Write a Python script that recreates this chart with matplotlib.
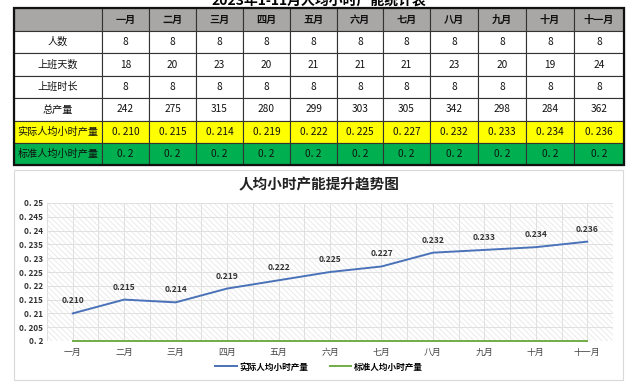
import matplotlib
matplotlib.use("Agg")
import matplotlib.pyplot as plt
from matplotlib.patches import Rectangle
from matplotlib.lines import Line2D

plt.rcParams['font.family'] = ['Noto Sans CJK SC', 'DejaVu Sans']
plt.rcParams['hatch.color'] = '#dcdcdc'
plt.rcParams['hatch.linewidth'] = 0.5

# ---------------- data ----------------
months = ['一月', '二月', '三月', '四月', '五月', '六月', '七月', '八月', '九月', '十月', '十一月']
row_names = ['人数', '上班天数', '上班时长', '总产量', '实际人均小时产量', '标准人均小时产量']
headcount = [8, 8, 8, 8, 8, 8, 8, 8, 8, 8, 8]
work_days = [18, 20, 23, 20, 21, 21, 21, 23, 20, 19, 24]
work_hours = [8, 8, 8, 8, 8, 8, 8, 8, 8, 8, 8]
total_output = [242, 275, 315, 280, 299, 303, 305, 342, 298, 284, 362]
actual_rate = [0.210, 0.215, 0.214, 0.219, 0.222, 0.225, 0.227, 0.232, 0.233, 0.234, 0.236]
standard_rate = [0.2, 0.2, 0.2, 0.2, 0.2, 0.2, 0.2, 0.2, 0.2, 0.2, 0.2]
table_title = '2023年1-11月人均小时产能统计表'
chart_title = '人均小时产能提升趋势图'

W, H = 637, 387
fig = plt.figure(figsize=(W / 100, H / 100), dpi=100)

# overlay axes in pixel coordinates for the table
tax = fig.add_axes([0, 0, 1, 1])
tax.set_xlim(0, W)
tax.set_ylim(H, 0)
tax.axis('off')

col_x = [14, 102, 149, 196, 243, 290, 337, 383, 430, 478, 526, 574, 624]
row_y = [8, 31, 53, 76, 98, 121, 143, 165]

tax.text(319, 1, table_title, ha='center', va='center', fontsize=10, fontweight='bold', clip_on=False)

row_fill = ['#a9a6a6', 'white', 'white', 'white', 'white', '#ffff00', '#00b050']
rows = [
    [str(v) for v in headcount],
    [str(v) for v in work_days],
    [str(v) for v in work_hours],
    [str(v) for v in total_output],
    ['0. %03d' % round(v * 1000) for v in actual_rate],
    ['0. %d' % round(v * 10) for v in standard_rate],
]

for r in range(7):
    y0, y1 = row_y[r], row_y[r + 1]
    for c in range(12):
        x0, x1 = col_x[c], col_x[c + 1]
        tax.add_patch(Rectangle((x0, y0), x1 - x0, y1 - y0, facecolor=row_fill[r],
                                edgecolor='#333333', lw=0.8))
        if r == 0:
            txt = '' if c == 0 else months[c - 1]
            fw = 'bold'
        else:
            txt = row_names[r - 1] if c == 0 else rows[r - 1][c - 1]
            fw = 'normal'
        tax.text((x0 + x1) / 2, (y0 + y1) / 2, txt, ha='center', va='center',
                 fontsize=7.3, fontweight=fw, color='#111111')
tax.add_patch(Rectangle((col_x[0], row_y[0]), col_x[-1] - col_x[0], row_y[-1] - row_y[0],
                        facecolor='none', edgecolor='#111111', lw=1.6))

# chart frame
tax.add_patch(Rectangle((14, 170), 609, 210, facecolor='none', edgecolor='#d9d9d9', lw=0.8))
tax.text(319, 184, chart_title, ha='center', va='center', fontsize=10.5, fontweight='bold',
         color='#222222')

# ---------------- chart ----------------
L, R, T, B = 47, 613, 203, 341
ax = fig.add_axes([L / W, (H - B) / H, (R - L) / W, (B - T) / H])
x = list(range(len(months)))
ax.set_xlim(-0.5, len(months) - 0.5)
ax.set_ylim(0.2, 0.25)
ax.add_patch(Rectangle((0, 0), 1, 1, transform=ax.transAxes, facecolor='white',
                       hatch='\\\\\\\\\\\\', edgecolor='#e4e4e4', lw=0, zorder=0))
for gx in [i * 0.5 - 0.5 for i in range(2 * len(months) + 1)]:
    ax.axvline(gx, color='#e0e0e0', lw=0.7, zorder=1)
yt = [0.2 + 0.005 * i for i in range(11)]
for gy in yt:
    ax.axhline(gy, color='#e0e0e0', lw=0.7, zorder=1)

ax.plot(x, actual_rate, color='#4a72b8', lw=1.4, zorder=3, label='实际人均小时产量')
ax.plot(x, standard_rate, color='#70ad47', lw=1.4, zorder=3, clip_on=False, label='标准人均小时产量')
for xi, v in zip(x, actual_rate):
    ax.annotate('%.3f' % v, (xi, v), xytext=(0, 9), textcoords='offset points',
                ha='center', va='center', fontsize=6.1, fontweight='bold', color='#333333')

ax.set_xticks(x)
ax.set_xticklabels(months, fontsize=6.4, color='#444444')
ax.set_yticks(yt)
ax.set_yticklabels([('%.3f' % v).rstrip('0').rstrip('.').replace('0.', '0. ') if v != 0.2 else '0. 2' for v in yt],
                   fontsize=5.9, fontweight='bold', color='#333333')
ax.tick_params(length=0, pad=3)
ax.tick_params(axis='x', pad=5)
for s in ax.spines.values():
    s.set_visible(False)

handles = [Line2D([], [], color='#4a72b8', lw=1.4), Line2D([], [], color='#70ad47', lw=1.4)]
fig.legend(handles, ['实际人均小时产量', '标准人均小时产量'], loc='center',
           bbox_to_anchor=(319 / W, (H - 367) / H), ncol=2, frameon=False,
           prop={'size': 6.2, 'weight': 'bold'}, handlelength=2.5, columnspacing=2.5,
           handletextpad=0.3)

fig.savefig('out.png', dpi=100)
